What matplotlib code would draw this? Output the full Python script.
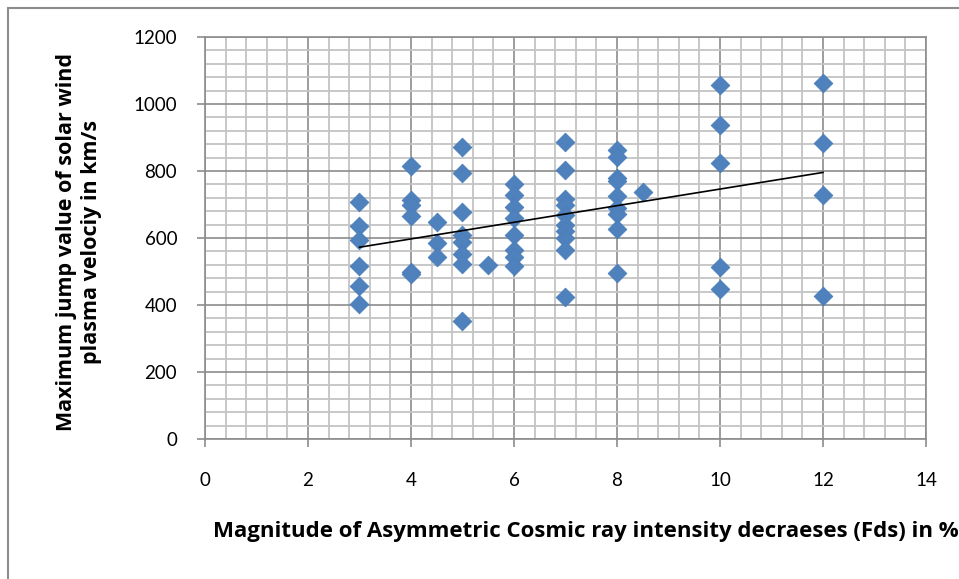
import numpy as np
import matplotlib
matplotlib.use('Agg')
import matplotlib.pyplot as plt
from matplotlib.patches import Rectangle
from matplotlib.ticker import MultipleLocator

# magnitude of Fds (%) and max jump of solar wind velocity (km/s)
fd_3 = [706, 637, 594, 516, 457, 403]
fd_4 = [815, 713, 700, 665, 498, 492]
fd_45 = [647, 584, 542]
fd_5 = [872, 795, 678, 609, 589, 552, 522, 352]
fd_55 = [519]
fd_6 = [761, 728, 693, 659, 609, 564, 544, 516]
fd_7 = [887, 803, 715, 700, 670, 640, 620, 600, 565, 425]
fd_8 = [862, 843, 780, 770, 725, 690, 672, 628, 496]
fd_85 = [738]
fd_10 = [1057, 938, 823, 513, 448]
fd_12 = [1062, 884, 728, 428]

groups = [(3, fd_3), (4, fd_4), (4.5, fd_45), (5, fd_5), (5.5, fd_55), (6, fd_6),
          (7, fd_7), (8, fd_8), (8.5, fd_85), (10, fd_10), (12, fd_12)]

x = np.array([g for g, vals in groups for v in vals], dtype=float)
y = np.array([v for g, vals in groups for v in vals], dtype=float)

plt.rcParams['font.family'] = ['Lato', 'DejaVu Sans']

fig = plt.figure(figsize=(9.59, 5.79), dpi=100)
ax = fig.add_axes([205/959, 1 - 439/579, (926-205)/959, (439-37)/579])

ax.scatter(x, y, marker='D', s=9.5**2, color='#4F81BD', edgecolors='#4A7EBB',
           linewidths=0.6, zorder=3)

# linear trend line
k, b = np.polyfit(x, y, 1)
xl = np.array([x.min(), x.max()])
ax.plot(xl, k*xl + b, color='black', lw=1.2, zorder=4)

ax.set_xlim(0, 14)
ax.set_ylim(0, 1200)
ax.xaxis.set_major_locator(MultipleLocator(2))
ax.xaxis.set_minor_locator(MultipleLocator(0.4))
ax.yaxis.set_major_locator(MultipleLocator(200))
ax.yaxis.set_minor_locator(MultipleLocator(40))

ax.grid(which='minor', color='#c4c4c4', lw=1.3, zorder=0)
ax.grid(which='major', color='#8c8c8c', lw=1.2, zorder=1)
ax.set_axisbelow(True)

for s in ax.spines.values():
    s.set_color('#8c8c8c')
    s.set_linewidth(1.2)

ax.tick_params(which='major', direction='out', length=6, color='#8c8c8c', width=1.2,
               labelsize=13.5)
ax.tick_params(axis='x', pad=18)
ax.tick_params(axis='y', pad=14)
ax.tick_params(which='minor', length=0)

lab_font = ['Open Sans', 'DejaVu Sans']
fig.text(586/959, 1 - 531/579, 'Magnitude of Asymmetric Cosmic ray intensity decraeses (Fds) in %',
         ha='center', va='center', fontsize=16, fontweight='bold', family=lab_font)
fig.text(79/959, 1 - 242/579, 'Maximum jump value of solar wind\nplasma velociy in km/s',
         ha='center', va='center', rotation=90, fontsize=15.5, fontweight='bold',
         linespacing=1.25, family=lab_font)

# chart border (top/left visible)
fig.patches.append(Rectangle((8/959, -0.5), 2, 1.5 - 8/579, transform=fig.transFigure,
                             fill=False, edgecolor='#8c8c8c', lw=1.5))

fig.savefig('out.png', dpi=100)
